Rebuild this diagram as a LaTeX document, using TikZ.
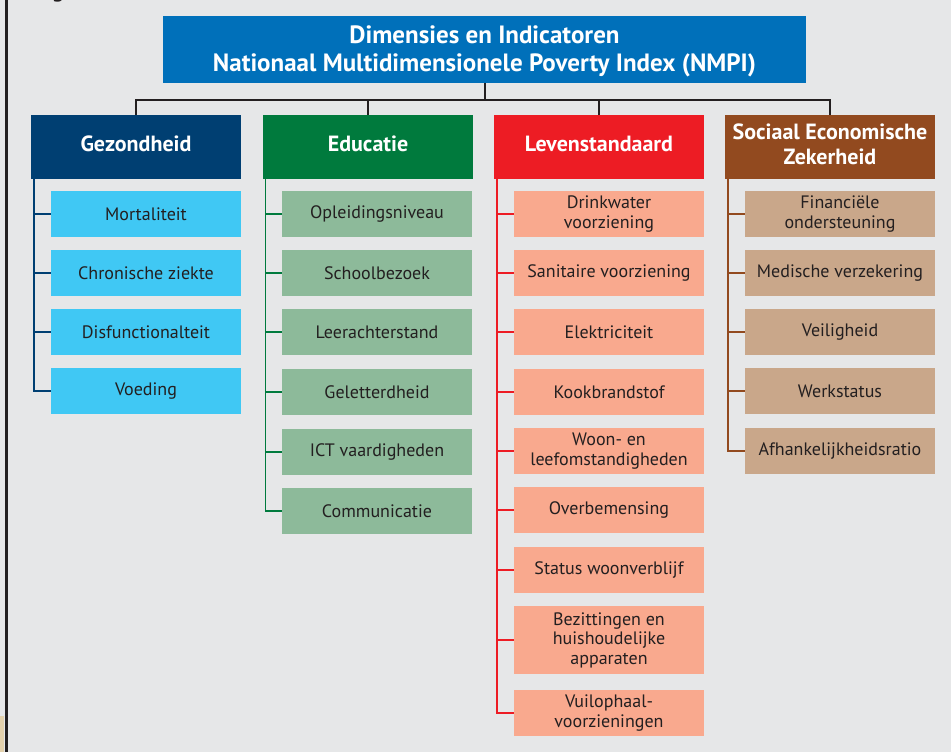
\documentclass[tikz,border=0pt]{standalone}
\usepackage{fontspec}
\setmainfont{PT Sans}
\begin{document}
\begin{tikzpicture}[x=1pt,y=-1pt,
  every node/.style={inner sep=0pt, outer sep=0pt, align=center},
  topbox/.style={fill=topblue, text=white, font=\fontsize{25}{28}\selectfont\bfseries, minimum width=643pt, minimum height=67pt, anchor=north west},
  catbox/.style={text=white, font=\fontsize{22}{25}\selectfont\bfseries, minimum width=210pt, minimum height=64pt, anchor=north west, text depth=7pt},
  subbox/.style={text=txt, font=\fontsize{18}{19.5}\selectfont, minimum width=190pt, minimum height=46pt, anchor=north west},
  mainline/.style={draw=linek, line width=2pt},
  catline/.style={line width=1.8pt}
]
\definecolor{bg}{HTML}{E6E7E8}
\definecolor{topblue}{HTML}{0070BA}
\definecolor{txt}{HTML}{231F20}
\definecolor{linek}{HTML}{231F20}
\definecolor{gdark}{HTML}{003F72}
\definecolor{glight}{HTML}{40C8F4}
\definecolor{edark}{HTML}{007A3D}
\definecolor{elight}{HTML}{8DBA9A}
\definecolor{ldark}{HTML}{ED1C24}
\definecolor{llight}{HTML}{F9A98E}
\definecolor{sdark}{HTML}{924A1F}
\definecolor{slight}{HTML}{C9A78A}
\definecolor{beige}{HTML}{E3D1AC}

\useasboundingbox (0,0) rectangle (951,752);
\fill[bg] (0,0) rectangle (951,752);
\fill[beige] (0,716) rectangle (4,752);
\fill[linek] (4.5,0) rectangle (7.5,752);
\node[font=\fontsize{22}{22}\selectfont\bfseries, text=txt, anchor=base] (fig) at (58,-2.5) {g};

% top box
\node[topbox, text depth=2pt] (top) at (163,16) {Dimensies en Indicatoren\\Nationaal Multidimensionele Poverty Index (NMPI)};

% categories
\node[catbox, fill=gdark] (cg) at (31,115) {Gezondheid};
\node[catbox, fill=edark] (ce) at (263,115) {Educatie};
\node[catbox, fill=ldark] (cl) at (494,115) {Levenstandaard};
\node[catbox, fill=sdark, text depth=5pt] (cs) at (725,115) {Sociaal Economische\\Zekerheid};

\coordinate (hub) at (485,100);
\draw[mainline] (top.south) -- (top.south |- hub);
\draw[mainline] (cg.north) |- (cs.north |- hub) -- (cs.north);
\draw[mainline] (ce.north) -- (ce.north |- hub);
\draw[mainline] (cl.north) -- (cl.north |- hub);

% Gezondheid
\node[subbox, fill=glight] (g1) at (51,191) {Mortaliteit};
\node[subbox, fill=glight] (g2) at (51,250) {Chronische ziekte};
\node[subbox, fill=glight] (g3) at (51,309) {Disfunctionalteit};
\node[subbox, fill=glight] (g4) at (51,368) {Voeding};
\coordinate (gx) at (34,0);
\draw[catline, draw=gdark] (cg.south -| gx) |- (g4.west);
\foreach \n in {g1,g2,g3} \draw[catline, draw=gdark] (gx |- \n.west) -- (\n.west);

% Educatie
\node[subbox, fill=elight] (e1) at (282,191) {Opleidingsniveau};
\node[subbox, fill=elight] (e2) at (282,250) {Schoolbezoek};
\node[subbox, fill=elight] (e3) at (282,309) {Leerachterstand};
\node[subbox, fill=elight] (e4) at (282,369) {Geletterdheid};
\node[subbox, fill=elight] (e5) at (282,429) {ICT vaardigheden};
\node[subbox, fill=elight] (e6) at (282,488) {Communicatie};
\coordinate (ex) at (265.5,0);
\draw[catline, draw=edark] (ce.south -| ex) |- (e6.west);
\foreach \n in {e1,e2,e3,e4,e5} \draw[catline, draw=edark] (ex |- \n.west) -- (\n.west);

% Levenstandaard
\node[subbox, fill=llight] (l1) at (514,191) {Drinkwater\\voorziening};
\node[subbox, fill=llight] (l2) at (514,250) {Sanitaire voorziening};
\node[subbox, fill=llight] (l3) at (514,309) {Elektriciteit};
\node[subbox, fill=llight] (l4) at (514,369) {Kookbrandstof};
\node[subbox, fill=llight] (l5) at (514,428) {Woon- en\\leefomstandigheden};
\node[subbox, fill=llight] (l6) at (514,487) {Overbemensing};
\node[subbox, fill=llight] (l7) at (514,547) {Status woonverblijf};
\node[subbox, fill=llight, minimum height=68pt] (l8) at (514,606) {Bezittingen en\\huishoudelijke\\apparaten};
\node[subbox, fill=llight] (l9) at (514,690) {Vuilophaal-\\voorzieningen};
\coordinate (lx) at (497,0);
\draw[catline, draw=ldark] (cl.south -| lx) |- (l9.west);
\foreach \n in {l1,l2,l3,l4,l5,l6,l7,l8} \draw[catline, draw=ldark] (lx |- \n.west) -- (\n.west);

% Sociaal Economische Zekerheid
\node[subbox, fill=slight] (s1) at (745,191) {Financiële\\ondersteuning};
\node[subbox, fill=slight] (s2) at (745,250) {Medische verzekering};
\node[subbox, fill=slight] (s3) at (745,309) {Veiligheid};
\node[subbox, fill=slight] (s4) at (745,368) {Werkstatus};
\node[subbox, fill=slight] (s5) at (745,428) {Afhankelijkheidsratio};
\coordinate (sx) at (728,0);
\draw[catline, draw=sdark] (cs.south -| sx) |- (s5.west);
\foreach \n in {s1,s2,s3,s4} \draw[catline, draw=sdark] (sx |- \n.west) -- (\n.west);
\end{tikzpicture}
\end{document}
